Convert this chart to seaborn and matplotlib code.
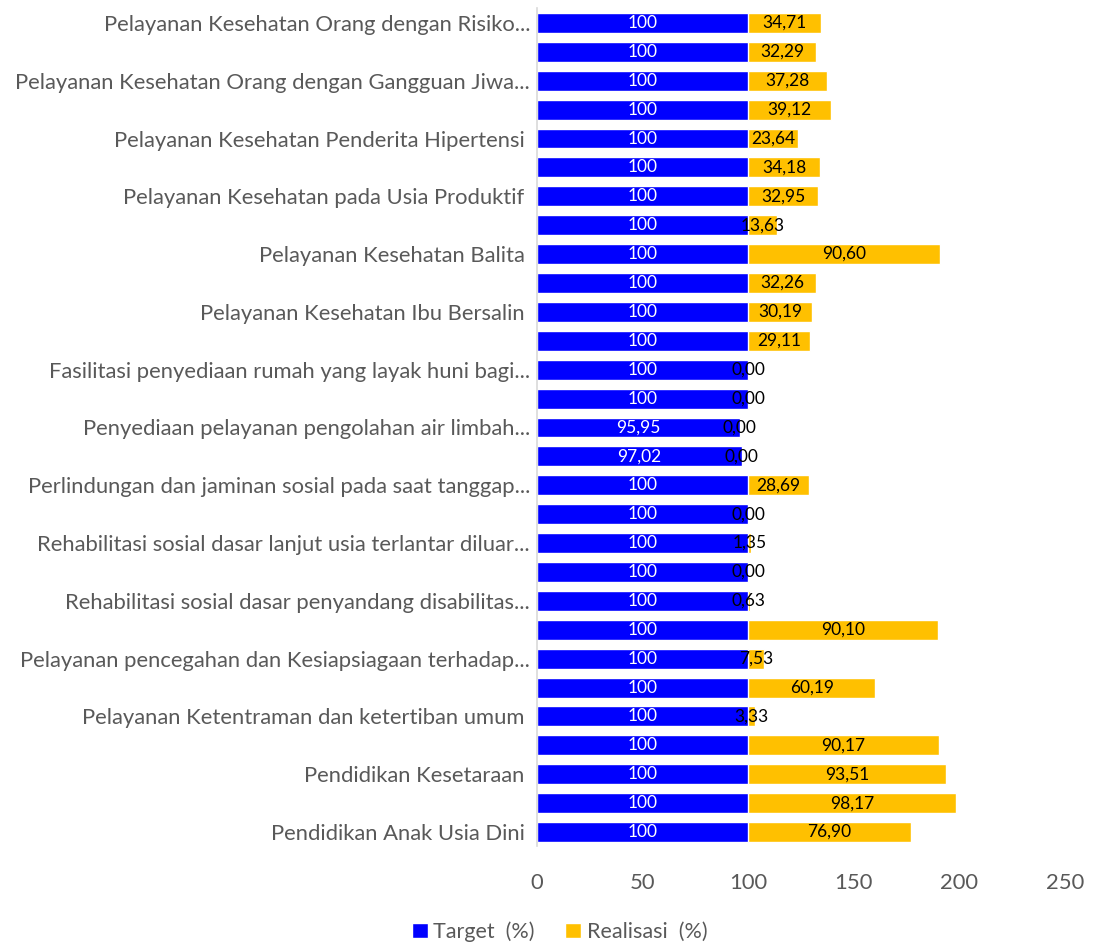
import matplotlib
matplotlib.use("Agg")
import matplotlib.pyplot as plt
from matplotlib.patches import Patch
import pandas as pd
import seaborn as sns

# rows from top to bottom; Excel only showed every other category label
labels = [
    "Pelayanan Kesehatan Orang dengan Risiko...", "",
    "Pelayanan Kesehatan Orang dengan Gangguan Jiwa...", "",
    "Pelayanan Kesehatan Penderita Hipertensi ", "",
    "Pelayanan Kesehatan pada Usia Produktif ", "",
    "Pelayanan Kesehatan Balita ", "",
    "Pelayanan Kesehatan Ibu Bersalin ", "",
    "Fasilitasi penyediaan rumah yang layak huni bagi...", "",
    "Penyediaan pelayanan pengolahan air limbah...", "",
    "Perlindungan dan jaminan sosial pada saat tanggap...", "",
    "Rehabilitasi sosial dasar lanjut usia terlantar diluar...", "",
    "Rehabilitasi sosial dasar penyandang disabilitas...", "",
    "Pelayanan pencegahan dan Kesiapsiagaan terhadap...", "",
    "Pelayanan Ketentraman dan ketertiban umum ", "",
    "Pendidikan Kesetaraan ", "",
    "Pendidikan Anak Usia Dini ",
]

target = [100, 100, 100, 100, 100, 100, 100, 100, 100, 100,
          100, 100, 100, 100, 95.95, 97.02, 100, 100, 100, 100,
          100, 100, 100, 100, 100, 100, 100, 100, 100]

realisasi = [34.71, 32.29, 37.28, 39.12, 23.64, 34.18, 32.95, 13.63, 90.60, 32.26,
             30.19, 29.11, 0.00, 0.00, 0.00, 0.00, 28.69, 0.00, 1.35, 0.00,
             0.63, 90.10, 7.53, 60.19, 3.33, 90.17, 93.51, 98.17, 76.90]

BLUE = "#0000FF"
GOLD = "#FFC000"
GREY = "#595959"


def fmt(v):
    if v == 100:
        return "100"
    return f"{v:.2f}".replace(".", ",")


df = pd.DataFrame({
    "row": [f"r{i}" for i in range(len(labels))],
    "target": target,
    "realisasi": realisasi,
})
df["total"] = df["target"] + df["realisasi"]

sns.set_style("white")
plt.rcParams["font.family"] = ["Lato", "DejaVu Sans"]

fig = plt.figure(figsize=(10.97, 9.44), dpi=100)
ax = fig.add_axes([0.4895, 0.1033, 0.4813, 0.8877])

# stacked look: full length in gold, target drawn over it in blue
sns.barplot(data=df, y="row", x="total", color=GOLD, orient="h",
            width=0.69, saturation=1, ax=ax, errorbar=None)
sns.barplot(data=df, y="row", x="target", color=BLUE, orient="h",
            width=0.69, saturation=1, ax=ax, errorbar=None)

for i, r in df.iterrows():
    ax.text(r["target"] / 2, i, fmt(r["target"]), ha="center", va="center",
            color="white", fontsize=12.5)
    ax.text(r["target"] + r["realisasi"] / 2, i, fmt(r["realisasi"]),
            ha="center", va="center", color="black", fontsize=12.5)

ax.set_xlim(0, 250)
ax.set_ylim(len(labels) - 0.5, -0.5)
ax.set_xticks([0, 50, 100, 150, 200, 250])
ax.set_yticks(range(len(labels)))
ax.set_yticklabels(labels)
ax.set_xlabel("")
ax.set_ylabel("")
ax.tick_params(axis="y", length=0, pad=5, labelsize=15.8, labelcolor=GREY)
ax.tick_params(axis="x", length=0, pad=19, labelsize=15.8, labelcolor=GREY)

for s in ["top", "right", "bottom"]:
    ax.spines[s].set_visible(False)
ax.spines["left"].set_color("#D9D9D9")
ax.spines["left"].set_linewidth(1.2)

handles = [Patch(facecolor=BLUE, label="Target  (%)"),
           Patch(facecolor=GOLD, label="Realisasi  (%)")]
fig.legend(handles=handles, loc="center", bbox_to_anchor=(0.51, 0.013),
           ncol=2, frameon=False, fontsize=15.5, labelcolor=GREY,
           handlelength=0.75, handleheight=0.75, handletextpad=0.25,
           columnspacing=1.4)

fig.savefig("out.png", dpi=100)
